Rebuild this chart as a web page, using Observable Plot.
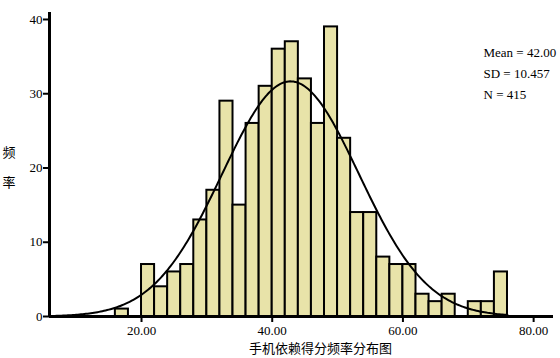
<!DOCTYPE html>
<html>
<head>
<meta charset="utf-8">
<script src="https://cdn.jsdelivr.net/npm/d3@7"></script>
<script src="https://cdn.jsdelivr.net/npm/@observablehq/plot@0.6"></script>
<style>
  html, body { margin: 0; padding: 0; background: #fff; }
</style>
</head>
<body>
<div id="chart"></div>
<script>
// Histogram bins (left edges, width 2) and frequencies
const binStarts = [16, 18, 20, 22, 24, 26, 28, 30, 32, 34, 36, 38, 40, 42, 44, 46, 48, 50, 52, 54, 56, 58, 60, 62, 64, 66, 68, 70, 72, 74];
const counts    = [ 1,  0,  7,  4,  6,  7, 13, 17, 29, 15, 26, 31, 36, 37, 32, 26, 39, 24, 14, 14,  8,  7,  7,  3,  2,  3,  0,  2,  2,  6];
const binWidth = 2;

// Summary statistics shown on the chart
const mean = 42.00;
const sd = 10.457;
const n = 415;
const statLabels = ["Mean = 42.00", "SD = 10.457", "N = 415"];
// Centre of the drawn normal curve (peak sits near 42.8)
const curveCenter = 42.8;

// Axis ticks
const xTicks = [20, 40, 60, 80];
const yTicks = [0, 10, 20, 30, 40];
const xLabel = "手机依赖得分频率分布图";
const yLabel = "频\n率";

const bars = binStarts.map((b, i) => ({x1: b, x2: b + binWidth, y: counts[i]}));

// Fitted normal curve from the stated SD and N
const curve = d3.range(6, 76.01, 0.25).map(x => ({
  x,
  y: n * binWidth / (sd * Math.sqrt(2 * Math.PI)) * Math.exp(-0.5 * ((x - curveCenter) / sd) ** 2)
}));

const xDomain = [5.92, 83.04];
const serif = "'Liberation Serif', 'Times New Roman', serif";
const cjk = "'Noto Sans CJK SC', sans-serif";

const chart = Plot.plot({
  width: 560,
  height: 358,
  marginLeft: 49,
  marginRight: 7,
  marginTop: 12,
  marginBottom: 42,
  style: {fontFamily: serif, fontSize: "13px", color: "#000", background: "#fff"},
  x: {domain: xDomain},
  y: {domain: [0, 40.94]},
  marks: [
    Plot.rectY(bars, {x1: "x1", x2: "x2", y: "y", fill: "#e8e3a9", stroke: "#000", strokeWidth: 2, inset: 0}),
    Plot.line(curve, {x: "x", y: "y", stroke: "#000", strokeWidth: 2}),
    Plot.ruleY([0], {x1: xDomain[0], x2: xDomain[1], stroke: "#000", strokeWidth: 3}),
    Plot.ruleX([xDomain[0]], {y1: 0, y2: 40.94, stroke: "#000", strokeWidth: 3}),
    Plot.axisX({ticks: xTicks, tickFormat: d => d.toFixed(2), tickSize: 6, tickPadding: 3, fontSize: 13, fontFamily: serif, strokeWidth: 2, label: null}),
    Plot.axisY({ticks: yTicks, tickSize: 6, tickPadding: 1, fontSize: 13, fontFamily: serif, strokeWidth: 2, label: null}),
    ...statLabels.map((s, i) => Plot.text([s], {text: d => d, frameAnchor: "top-left", dx: 434, dy: 40 + i * 21, textAnchor: "start", lineAnchor: "middle", fontSize: 13, fontFamily: serif})),
    Plot.text([xLabel], {text: d => d, frameAnchor: "bottom", dx: 19, dy: 32, lineAnchor: "middle", fontSize: 13, fontFamily: cjk}),
    Plot.text([yLabel], {text: d => d, frameAnchor: "left", dx: -40.5, dy: -2, textAnchor: "middle", lineAnchor: "middle", lineHeight: 2.3, fontSize: 13, fontFamily: cjk})
  ]
});
document.getElementById("chart").appendChild(chart);
</script>
</body>
</html>
